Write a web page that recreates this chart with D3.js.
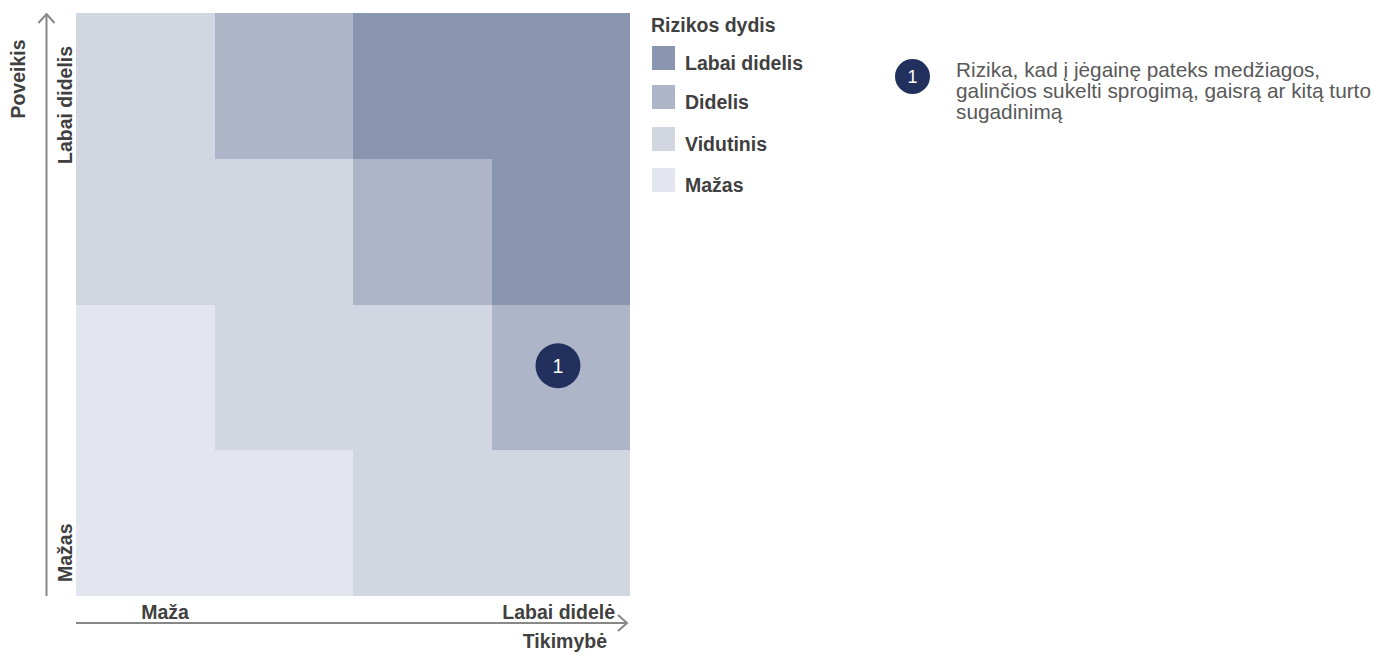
<!DOCTYPE html>
<html>
<head>
<meta charset="utf-8">
<script src="https://cdn.jsdelivr.net/npm/d3@7"></script>
<style>
  body { margin: 0; background: #fff; font-family: "Liberation Sans", Arial, sans-serif; }
  .lbl { font-weight: bold; fill: #404040; font-size: 19.5px; }
  .desc { fill: #595959; font-size: 20.8px; }
</style>
</head>
<body>
<script>
// risk levels and their colours
var levels = ["Labai didelis", "Didelis", "Vidutinis", "Mažas"];
var levelColors = ["#8a96b0", "#aeb5c8", "#d1d6e1", "#e3e6ee"];

// matrix rows from highest impact (top) to lowest, columns by likelihood
var matrix = [
  ["Vidutinis", "Didelis", "Labai didelis", "Labai didelis"],
  ["Vidutinis", "Vidutinis", "Didelis", "Labai didelis"],
  ["Mažas", "Vidutinis", "Vidutinis", "Didelis"],
  ["Mažas", "Mažas", "Vidutinis", "Vidutinis"]
];

// risks placed on the matrix (likelihood, impact in cell units 0..4)
var risks = [
  {id: "1", likelihood: 3.48, impact: 1.58,
   text: ["Rizika, kad į jėgainę pateks medžiagos,",
          "galinčios sukelti sprogimą, gaisrą ar kitą turto",
          "sugadinimą"]}
];

var xLabels = ["Maža", "Labai didelė"];
var yLabels = ["Mažas", "Labai didelis"];

var width = 1384, height = 654;
var grid = {left: 76, right: 630, top: 13, bottom: 596};

var x = d3.scaleLinear().domain([0, 4]).range([grid.left, grid.right]);
var y = d3.scaleLinear().domain([0, 4]).range([grid.bottom, grid.top]);
var color = d3.scaleOrdinal().domain(levels).range(levelColors);

var svg = d3.select("body").append("svg")
    .attr("width", width)
    .attr("height", height);

// cells
var cells = [];
matrix.forEach(function(row, r) {
    row.forEach(function(level, c) {
        cells.push({col: c, impact: 3 - r, level: level});
    });
});

svg.append("g").selectAll("rect")
    .data(cells)
    .enter().append("rect")
    .attr("x", function(d) { return Math.round(x(d.col)); })
    .attr("y", function(d) { return Math.round(y(d.impact + 1)); })
    .attr("width", function(d) { return Math.round(x(d.col + 1)) - Math.round(x(d.col)); })
    .attr("height", function(d) { return Math.round(y(d.impact)) - Math.round(y(d.impact + 1)); })
    .attr("shape-rendering", "crispEdges")
    .attr("fill", function(d) { return color(d.level); });

// axes with arrows
var axisColor = "#878787";
var axes = svg.append("g")
    .attr("fill", "none")
    .attr("stroke", axisColor)
    .attr("stroke-width", 2);

var yAxisX = 46.5;
axes.append("path")
    .attr("d", "M" + yAxisX + "," + y(0) + "V" + (y(4) + 1));
axes.append("path")
    .attr("d", "M" + (yAxisX - 8) + "," + (y(4) + 10) + "L" + yAxisX + "," + (y(4) + 1) + "L" + (yAxisX + 8) + "," + (y(4) + 10));

var xAxisY = 623;
axes.append("path")
    .attr("d", "M" + x(0) + "," + xAxisY + "H" + (x(4) - 3));
axes.append("path")
    .attr("d", "M" + (x(4) - 12) + "," + (xAxisY - 8) + "L" + (x(4) - 3) + "," + xAxisY + "L" + (x(4) - 12) + "," + (xAxisY + 8));

// axis labels
svg.append("text").attr("class", "lbl")
    .attr("transform", "translate(25,79) rotate(-90)")
    .attr("text-anchor", "middle")
    .text("Poveikis");

svg.append("text").attr("class", "lbl")
    .attr("transform", "translate(72,582) rotate(-90)")
    .text(yLabels[0]);
svg.append("text").attr("class", "lbl")
    .attr("transform", "translate(72,164) rotate(-90)")
    .text(yLabels[1]);

svg.append("text").attr("class", "lbl")
    .attr("x", 165)
    .attr("y", 619)
    .attr("text-anchor", "middle")
    .text(xLabels[0]);
svg.append("text").attr("class", "lbl")
    .attr("x", 615)
    .attr("y", 619)
    .attr("text-anchor", "end")
    .text(xLabels[1]);
svg.append("text").attr("class", "lbl")
    .attr("x", 607)
    .attr("y", 648)
    .attr("text-anchor", "end")
    .text("Tikimybė");

// legend
var legend = svg.append("g").attr("transform", "translate(651,0)");
legend.append("text").attr("class", "lbl")
    .attr("x", 0).attr("y", 32)
    .text("Rizikos dydis");

var legendY = [46, 85, 127, 168];
var item = legend.selectAll(".item")
    .data(levels)
    .enter().append("g")
    .attr("class", "item")
    .attr("transform", function(d, i) { return "translate(0," + legendY[i] + ")"; });
item.append("rect")
    .attr("x", 1).attr("width", 23).attr("height", 24)
    .attr("fill", function(d) { return color(d); });
item.append("text").attr("class", "lbl")
    .attr("x", 34).attr("y", 24)
    .text(function(d) { return d; });

// risk markers on matrix
var marks = svg.append("g").selectAll("g")
    .data(risks)
    .enter().append("g")
    .attr("transform", function(d) { return "translate(" + x(d.likelihood) + "," + y(d.impact) + ")"; });
marks.append("circle").attr("r", 22.5).attr("fill", "#22305e");
marks.append("text")
    .attr("text-anchor", "middle").attr("dy", "0.36em")
    .attr("fill", "#fff").attr("font-size", "19.5px")
    .text(function(d) { return d.id; });

// risk description list
var desc = svg.append("g").selectAll("g")
    .data(risks)
    .enter().append("g")
    .attr("transform", function(d, i) { return "translate(912.5," + (76.5 + i * 80) + ")"; });
desc.append("circle").attr("r", 17.5).attr("fill", "#22305e");
desc.append("text")
    .attr("text-anchor", "middle").attr("dy", "0.36em")
    .attr("fill", "#fff").attr("font-size", "18px")
    .text(function(d) { return d.id; });
desc.append("text").attr("class", "desc")
    .attr("x", 43.5).attr("y", 0)
    .selectAll("tspan")
    .data(function(d) { return d.text; })
    .enter().append("tspan")
    .attr("x", 43.5)
    .attr("dy", function(d, i) { return i === 0 ? 0 : 21; })
    .text(function(d) { return d; });
</script>
</body>
</html>
